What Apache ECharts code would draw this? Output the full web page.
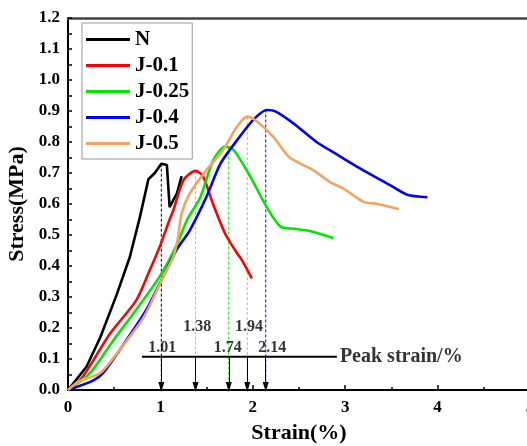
<!DOCTYPE html>
<html><head><meta charset="utf-8">
<script src="https://cdn.jsdelivr.net/npm/echarts@6/dist/echarts.min.js"></script>
<style>html,body{margin:0;padding:0;background:#fff}#c{width:527px;height:446px}</style>
</head><body><div id="c"></div>
<script>
var seriesNames = ['N', 'J-0.1', 'J-0.25', 'J-0.4', 'J-0.5'];
var colors = ['#000000', '#ff0000', '#00e600', '#0000ff', '#f4a460'];
var dashColors = ['#000000', '#ff9a9a', '#00e600', '#f4a460', '#0000ff'];

var curveN = [[0,0],[0.2,0.075],[0.35,0.17],[0.53,0.31],[0.67,0.43],[0.78,0.56],[0.87,0.68],[0.94,0.70],[1.01,0.73],[1.07,0.726],[1.1,0.59],[1.18,0.635],[1.23,0.69]];
var curveJ01 = [[0,0],[0.16,0.043],[0.45,0.18],[0.74,0.29],[0.89,0.39],[0.99,0.46],[1.1,0.55],[1.14,0.58],[1.25,0.677],[1.38,0.707],[1.46,0.69],[1.57,0.6],[1.7,0.505],[1.81,0.45],[1.88,0.42],[1.99,0.36]];
var curveJ025 = [[0,0],[0.24,0.055],[0.49,0.16],[0.74,0.26],[0.99,0.365],[1.18,0.47],[1.29,0.55],[1.43,0.62],[1.57,0.74],[1.7,0.785],[1.79,0.775],[1.97,0.69],[2.15,0.59],[2.3,0.527],[2.45,0.52],[2.62,0.513],[2.87,0.49]];
var curveJ04 = [[0,0],[0.27,0.03],[0.38,0.055],[0.63,0.16],[0.85,0.26],[1.07,0.39],[1.175,0.452],[1.32,0.516],[1.5,0.624],[1.65,0.73],[1.83,0.806],[2.0,0.87],[2.15,0.903],[2.25,0.898],[2.44,0.86],[2.69,0.80],[2.91,0.76],[3.16,0.715],[3.49,0.66],[3.67,0.63],[3.89,0.622]];
var curveJ05 = [[0,0],[0.13,0.03],[0.35,0.055],[0.56,0.13],[0.82,0.235],[1.03,0.365],[1.14,0.43],[1.19,0.49],[1.23,0.57],[1.32,0.635],[1.5,0.71],[1.68,0.775],[1.83,0.85],[1.94,0.882],[2.03,0.87],[2.22,0.817],[2.4,0.75],[2.65,0.71],[2.84,0.67],[2.98,0.65],[3.2,0.607],[3.35,0.6],[3.58,0.584]];
var curves = [curveN, curveJ01, curveJ025, curveJ04, curveJ05];

var peakStrain = [1.01, 1.38, 1.74, 1.94, 2.14];
var peakStress = [0.73, 0.705, 0.785, 0.88, 0.905];
var peakLabels = ['1.01', '1.38', '1.74', '1.94', '2.14'];
var labelX = [1.02, 1.40, 1.73, 1.96, 2.21];
var labelY = [0.135, 0.205, 0.135, 0.205, 0.135];
var baseLineY = 0.107;
var baseLineX = [0.8, 2.91];
var baseLineText = 'Peak strain/%';

var xTicks = [0, 1, 2, 3, 4, 5];
var yMin = 0, yMax = 1.2;

var FONT = '"Liberation Serif", "DejaVu Serif", serif';
var series = [];
peakStrain.forEach(function (x, i) {
  series.push({
    type: 'line', silent: true, symbol: 'none', z: 1,
    data: [[x, peakStress[i]], [x, 0]],
    lineStyle: { color: dashColors[i], width: 1, type: [3, 2] }
  });
});
series.push({
  type: 'line', silent: true, symbol: 'none', z: 3,
  data: [[baseLineX[0], baseLineY], [baseLineX[1], baseLineY]],
  lineStyle: { color: '#000', width: 2 },
  markLine: {
    silent: true, symbol: ['none', 'triangle'], symbolSize: [6, 10],
    label: { show: false },
    lineStyle: { color: '#000', width: 1, type: 'solid' },
    data: peakStrain.map(function (x) { return [{ coord: [x, baseLineY] }, { coord: [x, 0.01] }]; })
  }
});
series.push({
  type: 'scatter', silent: true, symbolSize: 0, z: 5,
  data: peakLabels.map(function (t, i) { return { value: [labelX[i], labelY[i]], name: t }; }),
  label: { show: true, position: 'inside', formatter: '{b}', color: '#000', fontFamily: FONT, fontWeight: 'bold', fontSize: 16 }
});
series.push({
  type: 'scatter', silent: true, symbolSize: 0, z: 5,
  data: [{ value: [baseLineX[1], baseLineY], name: baseLineText }],
  label: { show: true, position: 'right', distance: 3, formatter: '{b}', color: '#000', fontFamily: FONT, fontWeight: 'bold', fontSize: 20 }
});
curves.forEach(function (d, i) {
  series.push({
    name: seriesNames[i], type: 'line', symbol: 'none', showSymbol: false, z: 4,
    smooth: i === 0 ? false : 0.25,
    data: d,
    lineStyle: { color: colors[i], width: 2.6 },
    itemStyle: { color: colors[i] }
  });
});

var chart = echarts.init(document.getElementById('c'), null, { renderer: 'canvas' });
chart.setOption({
  animation: false,
  backgroundColor: '#fff',
  grid: { left: 68, top: 18, right: -3, bottom: 56, outerBoundsMode: 'none', containLabel: false },
  legend: {
    data: seriesNames, orient: 'vertical', left: 82, top: 23,
    icon: 'rect', itemWidth: 44, itemHeight: 3, itemGap: 5,
    padding: [6, 3, 5, 4],
    borderColor: '#999', borderWidth: 1,
    textStyle: { fontFamily: FONT, fontWeight: 'bold', fontSize: 21, lineHeight: 19, color: '#000' }
  },
  xAxis: [{
    type: 'value', min: 0, max: 5, interval: 1,
    name: 'Strain(%)', nameLocation: 'middle', nameGap: 32,
    nameTextStyle: { fontFamily: FONT, fontWeight: 'bold', fontSize: 22, color: '#000' },
    axisLine: { lineStyle: { color: '#000', width: 2 } },
    axisTick: { inside: true, length: 5, lineStyle: { width: 1.5, color: '#000' } },
    minorTick: { show: true, splitNumber: 2, length: 3, lineStyle: { color: '#000', width: 1.5 } },
    axisLabel: { margin: 9, showMaxLabel: true, hideOverlap: false, fontFamily: FONT, fontWeight: 'bold', fontSize: 17, color: '#000',
      formatter: function (v) { return xTicks.indexOf(v) >= 0 ? String(v) : ''; } },
    splitLine: { show: false }
  }, {
    type: 'value', position: 'top', min: 0, max: 5,
    axisLine: { onZero: false, lineStyle: { color: '#444', width: 2.5 } },
    axisTick: { show: false }, axisLabel: { show: false }, splitLine: { show: false }
  }],
  yAxis: {
    type: 'value', min: yMin, max: yMax, interval: 0.1,
    name: 'Stress(MPa)', nameLocation: 'middle', nameGap: 27,
    nameTextStyle: { fontFamily: FONT, fontWeight: 'bold', fontSize: 22, color: '#000' },
    axisLine: { lineStyle: { color: '#000', width: 2 } },
    axisTick: { inside: true, length: 4, lineStyle: { width: 1.5, color: '#000' } },
    minorTick: { show: true, splitNumber: 2, length: 4, lineStyle: { color: '#000', width: 1.5 } },
    axisLabel: { margin: 8, fontFamily: FONT, fontWeight: 'bold', fontSize: 17, color: '#000',
      formatter: function (v) { return v.toFixed(1); } },
    splitLine: { show: false }
  },
  series: series
});
</script></body></html>
